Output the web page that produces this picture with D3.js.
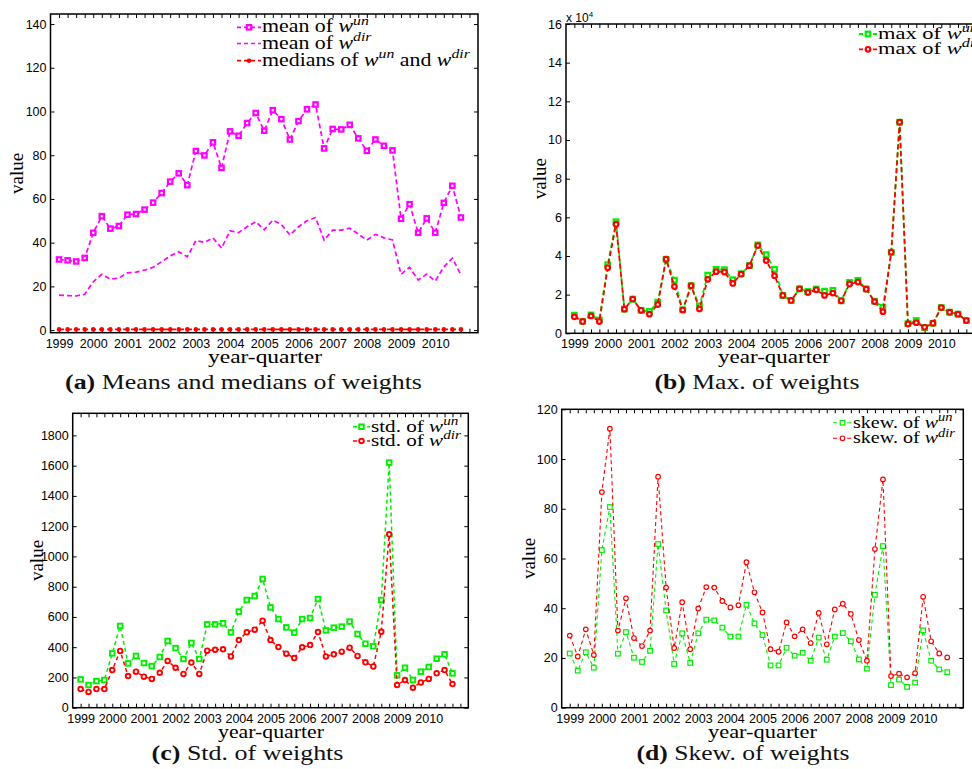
<!DOCTYPE html>
<html>
<head>
<meta charset="utf-8">
<script src="https://cdn.jsdelivr.net/npm/d3@7"></script>
<style>
  body { margin: 0; background: #fff; }
  svg { display: block; }
</style>
</head>
<body>
<svg id="fig" width="972" height="769"></svg>
<script>
// ---- data: one value per quarter, 1999Q1 .. 2010Q4 ----
const yearLabels = ["1999","2000","2001","2002","2003","2004","2005","2006","2007","2008","2009","2010"];

const meanUn = [32.3,31.9,31.4,33.0,44.5,52.1,46.4,47.6,52.8,53.1,55.1,58.3,62.7,67.9,71.7,66.3,
  81.9,79.9,85.9,74.2,90.9,88.9,94.7,99.3,91.2,100.6,96.5,87.2,95.6,101.0,103.2,83.1,
  92.0,91.8,93.9,87.7,82.0,87.2,84.3,82.2,50.9,57.6,44.5,51.1,44.5,58.2,66.0,51.5];
const meanDir = [16.0,15.8,15.6,16.4,22.1,25.5,23.3,23.8,26.2,26.5,27.4,28.7,31.3,33.9,35.8,33.5,
  40.9,40.1,42.2,37.5,45.4,44.6,47.3,49.6,45.9,50.3,48.3,43.5,47.3,50.0,51.5,41.2,
  45.7,45.7,46.6,43.9,41.2,43.8,42.2,41.2,25.5,28.7,22.9,25.6,22.4,28.9,32.9,25.3];
const medians = [0.3,0.3,0.3,0.3,0.3,0.3,0.3,0.3,0.3,0.3,0.3,0.3,0.3,0.3,0.3,0.3,
  0.3,0.3,0.3,0.3,0.3,0.3,0.3,0.3,0.3,0.3,0.3,0.3,0.3,0.3,0.3,0.3,
  0.3,0.3,0.3,0.3,0.3,0.3,0.3,0.3,0.3,0.3,0.3,0.3,0.3,0.3,0.3,0.3];

// maxima, in units of 10^4
const maxUn = [0.94,0.62,0.95,0.69,3.55,5.77,1.25,1.77,1.19,1.13,1.61,3.83,2.75,1.21,2.46,1.42,
  3.01,3.31,3.29,2.77,3.08,3.50,4.57,4.07,3.31,1.96,1.70,2.30,2.16,2.29,2.18,2.22,
  1.68,2.63,2.74,2.30,1.66,1.35,4.19,10.92,0.50,0.66,0.30,0.52,1.33,1.09,0.99,0.66];
const maxDir = [0.85,0.61,0.90,0.61,3.39,5.64,1.25,1.77,1.19,0.99,1.49,3.83,2.42,1.21,2.46,1.26,
  2.79,3.19,3.17,2.58,3.06,3.50,4.54,3.76,2.98,1.96,1.70,2.30,2.11,2.25,1.96,2.08,
  1.68,2.55,2.65,2.28,1.64,1.12,4.19,10.92,0.48,0.55,0.31,0.52,1.33,1.09,0.99,0.66];

const stdUn = [187,150,176,183,359,540,293,342,295,275,335,441,394,322,428,322,
  551,551,558,498,635,712,738,851,663,586,531,496,586,593,718,511,
  529,536,569,487,423,406,712,1620,214,264,183,238,269,324,353,227];
const stdDir = [123,104,123,123,249,375,209,238,205,190,231,309,264,223,298,223,
  377,383,386,339,447,498,516,575,447,401,357,328,399,414,500,339,
  353,370,397,342,300,273,502,1146,150,183,132,167,190,227,249,156];

const skewUn = [21.8,14.9,22.3,16.1,63.4,80.7,21.7,30.4,20.1,18.4,22.9,65.8,39.1,17.6,29.9,18.0,
  29.9,35.4,35.1,32.2,28.6,28.6,41.4,33.9,29.2,17.0,17.0,24.1,20.9,22.1,18.9,28.2,
  19.3,28.6,30.0,26.7,19.4,15.7,45.4,65.0,9.1,11.3,8.4,10.1,31.1,18.9,15.4,14.3];
const skewDir = [29.0,20.6,31.5,21.2,86.7,112.2,31.0,44.0,28.0,24.8,31.0,92.9,48.3,24.0,42.4,23.5,
  39.9,48.5,48.3,42.9,40.3,41.2,58.5,46.4,38.3,23.5,22.5,34.3,28.7,31.5,26.0,38.1,
  25.5,39.5,41.8,37.7,27.2,18.9,63.8,91.8,12.7,13.7,12.2,13.9,44.6,26.7,21.8,20.2];

const ticksA = [0,20,40,60,80,100,120,140];
const ticksB = [0,2,4,6,8,10,12,14,16];
const ticksC = [0,200,400,600,800,1000,1200,1400,1600,1800];
const ticksD = [0,20,40,60,80,100,120];

// ---- drawing ----
const svg = d3.select("#fig");
const SERIF = "'Liberation Serif', 'DejaVu Serif', serif";
const SANS = "'Liberation Sans', Arial, sans-serif";
const MAGENTA = "#ff00ff", GREEN = "#00ee00", RED = "#ff0000";
const TICK = 4;

// text with italic w and raised superscripts, e.g. ["mean of ", {sup: "un"}]
function richText(sel, parts, size) {
  let shift = 0;
  parts.forEach(p => {
    if (typeof p === "string") {
      sel.append("tspan").attr("dy", -shift).text(p);
      shift = 0;
    } else {
      sel.append("tspan").attr("dy", -shift).attr("font-style", "italic").text("w");
      const up = -size * 0.42;
      sel.append("tspan").attr("dy", up).attr("font-style", "italic")
        .attr("font-size", size * 0.72).text(p.sup);
      shift = up;
    }
  });
}

// place a text at (x, y) and widen it horizontally to a given width
function widen(sel, x, y, target) {
  const w = sel.node().getComputedTextLength();
  const s = w > 0 ? target / w : 1;
  sel.attr("x", 0).attr("y", 0).attr("transform", `translate(${x},${y}) scale(${s},1)`);
  return s;
}

function drawMarker(g, kind, color, cx, cy, m) {
  if (kind === "square") {
    g.append("rect").attr("x", cx - m.size / 2).attr("y", cy - m.size / 2)
      .attr("width", m.size).attr("height", m.size)
      .attr("fill", m.fill || "#fff").attr("stroke", color).attr("stroke-width", m.sw);
  } else if (kind === "circle") {
    g.append("circle").attr("cx", cx).attr("cy", cy).attr("r", m.size / 2)
      .attr("fill", m.fill || "#fff").attr("stroke", color).attr("stroke-width", m.sw);
  } else if (kind === "dot") {
    g.append("circle").attr("cx", cx).attr("cy", cy).attr("r", m.size / 2).attr("fill", color);
  }
}

function drawPanel(p) {
  const g = svg.append("g");
  const x = d3.scaleLinear().domain([0, 50]).range([p.left, p.right]);
  const y = d3.scaleLinear().domain(p.yDomain).range([p.bottom, p.top]);
  const qTicks = d3.range(1, 50);
  const fmtX = d => {
    const k = (d - 1) / 4;
    return Number.isInteger(k) && k < yearLabels.length ? yearLabels[k] : "";
  };

  g.append("g").attr("transform", `translate(0,${p.bottom})`)
    .call(d3.axisBottom(x).tickValues(qTicks).tickSize(-TICK).tickPadding(6).tickFormat(fmtX));
  g.append("g").attr("transform", `translate(0,${p.top})`)
    .call(d3.axisTop(x).tickValues(qTicks).tickSize(-TICK).tickFormat(""));
  g.append("g").attr("transform", `translate(${p.left},0)`)
    .call(d3.axisLeft(y).tickValues(p.yTicks).tickSize(-TICK).tickPadding(4).tickFormat(d3.format("d")));
  g.append("g").attr("transform", `translate(${p.right},0)`)
    .call(d3.axisRight(y).tickValues(p.yTicks).tickSize(-TICK).tickFormat(""));
  g.selectAll(".domain").remove();
  g.selectAll(".tick line").attr("stroke", "#000").attr("stroke-width", 1);
  g.selectAll(".tick text").attr("font-family", SANS).attr("font-size", 12.5).attr("fill", "#000");

  // series
  const line = d3.line().x((d, i) => x(i + 1)).y(d => y(d));
  p.series.forEach(s => {
    g.append("path").datum(s.values).attr("d", line)
      .attr("fill", "none").attr("stroke", s.color)
      .attr("stroke-width", s.width).attr("stroke-dasharray", s.dash);
    if (s.marker !== "none") {
      s.values.forEach((v, i) => drawMarker(g, s.marker, s.color, x(i + 1), y(v), s.m));
    }
  });

  // box
  g.append("rect").attr("x", p.left).attr("y", p.top)
    .attr("width", p.right - p.left).attr("height", p.bottom - p.top)
    .attr("fill", "none").attr("stroke", "#000").attr("stroke-width", 1.5);

  // legend (no frame)
  const L = p.legend;
  const texts = p.series.map((s, k) => {
    const ly = L.rows[k];
    g.append("line").attr("x1", L.x0).attr("x2", L.x1)
      .attr("y1", ly).attr("y2", ly).attr("stroke", s.color)
      .attr("stroke-width", s.width).attr("stroke-dasharray", "4,3");
    if (s.marker !== "none") drawMarker(g, s.marker, s.color, (L.x0 + L.x1) / 2, ly, s.m);
    const t = g.append("text").attr("font-family", SERIF)
      .attr("font-size", L.size).attr("fill", "#000");
    richText(t, s.label, L.size);
    return t;
  });
  const sLeg = texts[L.refRow].node().getComputedTextLength();
  const scale = L.refWidth / sLeg;
  texts.forEach((t, k) => t.attr("transform", `translate(${L.x1 + 1},${L.rows[k] + 5}) scale(${scale},1)`));

  // axis titles
  const xt = g.append("text").attr("text-anchor", "middle")
    .attr("font-family", SERIF).attr("font-size", 19).text("year-quarter");
  widen(xt, p.xTitleX, p.bottom + 30, p.xTitleW);
  g.append("text").attr("transform", `translate(${p.yTitleX},${(p.top + p.bottom) / 2}) rotate(-90)`)
    .attr("text-anchor", "middle").attr("dy", "0.32em")
    .attr("font-family", SERIF).attr("font-size", 19).text("value");

  // caption
  const cap = svg.append("text").attr("text-anchor", "middle")
    .attr("font-family", SERIF).attr("font-size", 22).attr("fill", "#111");
  cap.append("tspan").attr("font-weight", "bold").text(p.capTag);
  cap.append("tspan").text(" " + p.capText);
  widen(cap, p.capX, p.capY, p.capW);
  return { g, x, y };
}

const mA = { size: 4.4, sw: 2.2 };
const mB = { size: 4.6, sw: 2.2 };
const mC = { size: 4.6, sw: 1.9 };
const mD = { size: 4.6, sw: 1.2 };

drawPanel({
  left: 50.5, right: 478, top: 14, bottom: 332.7, yDomain: [-1.2, 144.6], yTicks: ticksA,
  xTitleX: 265, xTitleW: 114, yTitleX: 17, capX: 243.5, capY: 389, capW: 357,
  capTag: "(a)", capText: "Means and medians of weights",
  legend: { x0: 237, x1: 261, rows: [27.3, 43.5, 60.7], size: 18, refRow: 2, refWidth: 208 },
  series: [
    { values: meanUn, color: MAGENTA, width: 1.7, dash: "5,3", marker: "square", m: mA,
      label: ["mean of ", { sup: "un" }] },
    { values: meanDir, color: MAGENTA, width: 1.7, dash: "5,3", marker: "none",
      label: ["mean of ", { sup: "dir" }] },
    { values: medians, color: RED, width: 1.7, dash: "5,3", marker: "dot", m: { size: 4.6 },
      label: ["medians of ", { sup: "un" }, " and ", { sup: "dir" }] }
  ]
});

drawPanel({
  left: 566, right: 983, top: 24, bottom: 333.3, yDomain: [0, 16], yTicks: ticksB,
  xTitleX: 774, xTitleW: 112, yTitleX: 540, capX: 757, capY: 389, capW: 205,
  capTag: "(b)", capText: "Max. of weights",
  legend: { x0: 859, x1: 877, rows: [34, 49.3], size: 17, refRow: 0, refWidth: 100 },
  series: [
    { values: maxUn, color: GREEN, width: 1.8, dash: "5,3", marker: "square", m: mB,
      label: ["max of ", { sup: "un" }] },
    { values: maxDir, color: RED, width: 1.8, dash: "5,3", marker: "circle", m: mB,
      label: ["max of ", { sup: "dir" }] }
  ]
});
// exponent for the max panel
const expo = svg.append("text").attr("x", 566).attr("y", 22)
  .attr("font-family", SANS).attr("font-size", 12).text("x 10");
expo.append("tspan").attr("dy", -5).attr("font-size", 8).text("4");

drawPanel({
  left: 72.7, right: 468.3, top: 413.3, bottom: 707.7, yDomain: [0, 1946], yTicks: ticksC,
  xTitleX: 271, xTitleW: 106, yTitleX: 37, capX: 247.5, capY: 760, capW: 192,
  capTag: "(c)", capText: "Std. of weights",
  legend: { x0: 353, x1: 370, rows: [426.7, 441], size: 16, refRow: 1, refWidth: 90 },
  series: [
    { values: stdUn, color: GREEN, width: 1.5, dash: "4,3", marker: "square", m: mC,
      label: ["std. of ", { sup: "un" }] },
    { values: stdDir, color: RED, width: 1.5, dash: "4,3", marker: "circle", m: mC,
      label: ["std. of ", { sup: "dir" }] }
  ]
});

drawPanel({
  left: 561.7, right: 963.3, top: 409.3, bottom: 707.7, yDomain: [0, 120], yTicks: ticksD,
  xTitleX: 762.5, xTitleW: 109, yTitleX: 529, capX: 743, capY: 760, capW: 213,
  capTag: "(d)", capText: "Skew. of weights",
  legend: { x0: 833, x1: 852, rows: [422.7, 438.3], size: 16, refRow: 1, refWidth: 102 },
  series: [
    { values: skewUn, color: GREEN, width: 1.1, dash: "4,3", marker: "square", m: mD,
      label: ["skew. of ", { sup: "un" }] },
    { values: skewDir, color: RED, width: 1.1, dash: "4,3", marker: "circle", m: mD,
      label: ["skew. of ", { sup: "dir" }] }
  ]
});
</script>
</body>
</html>
